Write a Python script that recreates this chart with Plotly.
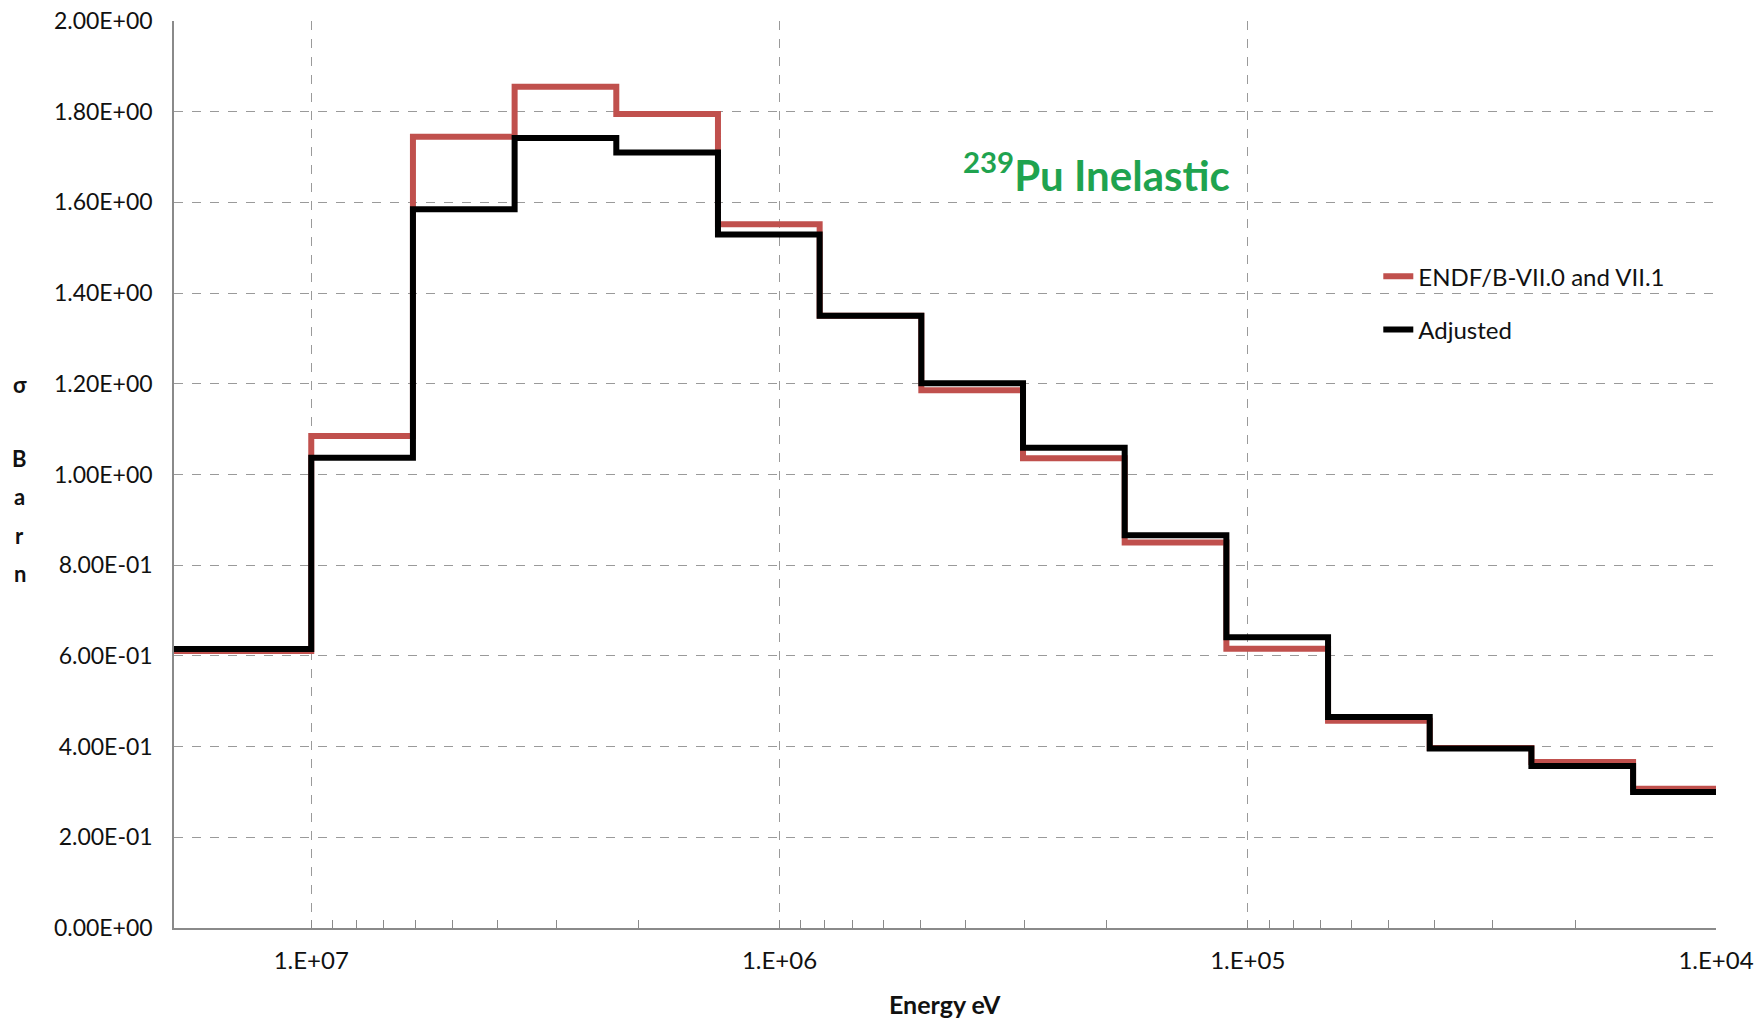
import plotly.graph_objects as go
import math

# ECCO-33 group boundaries (eV), high to low
energy_bounds = [1.964e7, 1.0e7, 6.0653e6, 3.6788e6, 2.2313e6, 1.3534e6, 8.2085e5,
                 4.9787e5, 3.0197e5, 1.8316e5, 1.1109e5, 6.7379e4, 4.0868e4,
                 2.4788e4, 1.5034e4, 1.0e4]

endf_values = [0.611, 1.085, 1.745, 1.855, 1.795, 1.552, 1.350, 1.186, 1.036,
               0.850, 0.616, 0.457, 0.397, 0.366, 0.307]
adjusted_values = [0.615, 1.037, 1.585, 1.742, 1.710, 1.529, 1.350, 1.201, 1.059,
                   0.866, 0.641, 0.465, 0.396, 0.357, 0.300]

series_names = ["ENDF/B-VII.0 and VII.1", "Adjusted"]

x_tick_vals = [1e7, 1e6, 1e5, 1e4]
x_tick_labels = ["1.E+07", "1.E+06", "1.E+05", "1.E+04"]
y_tick_vals = [0.0, 0.2, 0.4, 0.6, 0.8, 1.0, 1.2, 1.4, 1.6, 1.8, 2.0]
y_tick_labels = ["0.00E+00", "2.00E-01", "4.00E-01", "6.00E-01", "8.00E-01",
                 "1.00E+00", "1.20E+00", "1.40E+00", "1.60E+00", "1.80E+00",
                 "2.00E+00"]

fig = go.Figure()
fig.add_trace(go.Scatter(
    x=energy_bounds, y=endf_values + [endf_values[-1]],
    mode="lines", line=dict(color="#c0504d", width=6, shape="hv"),
    name=series_names[0], legendgroup="a"))
fig.add_trace(go.Scatter(
    x=energy_bounds, y=adjusted_values + [adjusted_values[-1]],
    mode="lines", line=dict(color="#000000", width=6, shape="hv"),
    name=series_names[1], legendgroup="b"))

fig.update_layout(
    width=1757, height=1019,
    margin=dict(l=174, r=41, t=21, b=91),
    paper_bgcolor="white", plot_bgcolor="white",
    showlegend=True,
    legend=dict(x=0.781, y=0.743, xanchor="left", yanchor="top",
                bgcolor="rgba(0,0,0,0)", traceorder="grouped", tracegroupgap=19,
                font=dict(family="Lato, sans-serif", size=24, color="#111")),
    xaxis=dict(
        type="log", range=[math.log10(energy_bounds[0]), 4], automargin=False,
        tickmode="array", tickvals=x_tick_vals, ticktext=x_tick_labels,
        showgrid=True, gridcolor="#9a9a9a", griddash="dash", gridwidth=1,
        showline=True, linecolor="#8a8a8a", linewidth=1.5,
        ticks="inside", ticklen=8, tickcolor="#8a8a8a",
        minor=dict(ticks="inside", ticklen=8, tickcolor="#8a8a8a", dtick="D1",
                   showgrid=False),
        ticklabelstandoff=10,
        tickfont=dict(family="Lato, sans-serif", size=24, color="#111"),
        zeroline=False,
    ),
    yaxis=dict(
        range=[0, 2], automargin=False,
        tickmode="array", tickvals=y_tick_vals, ticktext=y_tick_labels,
        showgrid=True, gridcolor="#9a9a9a", griddash="dash", gridwidth=1,
        showline=True, linecolor="#8a8a8a", linewidth=1.5,
        ticks="", ticklabelstandoff=15,
        tickfont=dict(family="Lato, sans-serif", size=23, color="#111"),
        zeroline=False,
    ),
)

# Title annotation
fig.add_annotation(
    text="<sup>239</sup>Pu Inelastic", xref="paper", yref="paper",
    x=0.598, y=0.834, xanchor="center", yanchor="middle", showarrow=False,
    font=dict(family="Lato, sans-serif", size=42, color="#1fa34f", weight="bold"))

# X axis title
fig.add_annotation(
    text="<b>Energy eV</b>", xref="paper", yref="paper", x=0.5, y=-0.084,
    xanchor="center", yanchor="middle", showarrow=False,
    font=dict(family="Lato, sans-serif", size=25, color="#111"))

# Y axis title, stacked letters
for ch, yv in zip(["σ", "B", "a", "r", "n"], [1.199, 1.036, 0.952, 0.865, 0.781]):
    fig.add_annotation(
        text="<b>" + ch + "</b>", xref="paper", yref="y", x=-0.0999, y=yv,
        xanchor="center", yanchor="middle", showarrow=False,
        font=dict(family="Lato, sans-serif", size=22, color="#111"))

fig.write_html("out.html")
